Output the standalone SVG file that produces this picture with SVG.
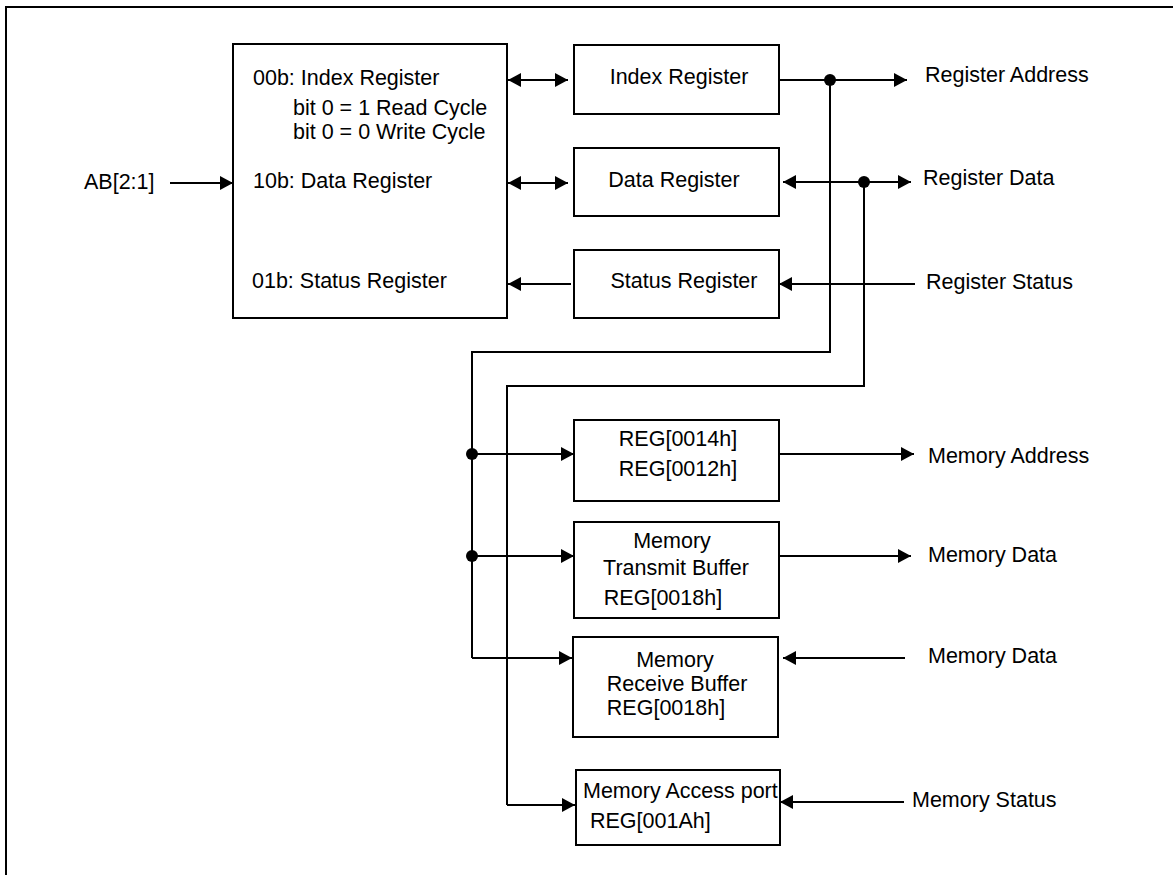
<svg xmlns="http://www.w3.org/2000/svg" width="1173" height="875" viewBox="0 0 1173 875">
<style>
  .box { fill: #fff; stroke: #000; stroke-width: 2; }
  .t { font-family: "Liberation Sans", Arial, sans-serif; font-size: 21.5px; fill: #000; }
  .m { text-anchor: middle; }
  .c { fill: none; stroke: #000; stroke-width: 2; }
  .a { marker-end: url(#ah); }
  .aa { marker-start: url(#ah); marker-end: url(#ah); }
  .dot { fill: #000; }
</style>
<defs>
  <marker id="ah" viewBox="0 0 13 14" refX="13" refY="7" markerWidth="13" markerHeight="14" markerUnits="userSpaceOnUse" orient="auto-start-reverse">
    <path d="M0,0 L13,7 L0,14 z" fill="#000"/>
  </marker>
</defs>
<rect width="1173" height="875" fill="#fff"/>
<path d="M6,875 V7 H1173" fill="none" stroke="#000" stroke-width="2"/>

<g id="connectors">
  <path class="c a" d="M170,183 H233"/>
  <path class="c aa" d="M508,80 H568"/>
  <path class="c aa" d="M508,183 H568"/>
  <path class="c a" d="M571,284 H508"/>
  <path class="c a" d="M779,80 H907"/>
  <path class="c" d="M830,80 V352 H472 V658"/>
  <path class="c a" d="M472,658 H572"/>
  <path class="c aa" d="M783,182 H911"/>
  <path class="c" d="M864,182 V386 H507 V805"/>
  <path class="c a" d="M507,805 H575"/>
  <path class="c a" d="M915,284 H779"/>
  <path class="c a" d="M472,454 H574"/>
  <path class="c a" d="M472,556 H574"/>
  <path class="c a" d="M779,454 H914"/>
  <path class="c a" d="M779,556 H911"/>
  <path class="c a" d="M905,658 H783"/>
  <path class="c a" d="M904,802 H780"/>
  <circle class="dot" cx="830" cy="80" r="6"/>
  <circle class="dot" cx="864" cy="182" r="6"/>
  <circle class="dot" cx="472" cy="454" r="6"/>
  <circle class="dot" cx="472" cy="556" r="6"/>
</g>

<g id="ab-label"><text class="t" x="84" y="189">AB[2:1]</text></g>

<g id="main">
  <rect class="box" x="233" y="44" width="274" height="274"/>
  <text class="t" x="253" y="85">00b: Index Register</text>
  <text class="t" x="293" y="115">bit 0 = 1 Read Cycle</text>
  <text class="t" x="293" y="139">bit 0 = 0 Write Cycle</text>
  <text class="t" x="253" y="188">10b: Data Register</text>
  <text class="t" x="252" y="288">01b: Status Register</text>
</g>

<g id="index-register">
  <rect class="box" x="574" y="45" width="205" height="69"/>
  <text class="t m" x="679" y="84">Index Register</text>
</g>
<g id="data-register">
  <rect class="box" x="574" y="148" width="205" height="68"/>
  <text class="t m" x="674" y="187">Data Register</text>
</g>
<g id="status-register">
  <rect class="box" x="574" y="250" width="205" height="68"/>
  <text class="t m" x="684" y="288">Status Register</text>
</g>

<g id="reg-address">
  <rect class="box" x="574" y="420" width="205" height="81"/>
  <text class="t m" x="678" y="446">REG[0014h]</text>
  <text class="t m" x="678" y="476">REG[0012h]</text>
</g>
<g id="transmit-buffer">
  <rect class="box" x="574" y="522" width="205" height="96"/>
  <text class="t m" x="672" y="548">Memory</text>
  <text class="t m" x="676" y="575">Transmit Buffer</text>
  <text class="t m" x="663" y="605">REG[0018h]</text>
</g>
<g id="receive-buffer">
  <rect class="box" x="573" y="637" width="205" height="100"/>
  <text class="t m" x="675" y="667">Memory</text>
  <text class="t m" x="677" y="691">Receive Buffer</text>
  <text class="t m" x="666" y="715">REG[0018h]</text>
</g>
<g id="access-port">
  <rect class="box" x="576" y="770" width="204" height="75"/>
  <text class="t" x="583" y="798">Memory Access port</text>
  <text class="t" x="590" y="828">REG[001Ah]</text>
</g>

<g id="labels">
  <text class="t" x="925" y="82">Register Address</text>
  <text class="t" x="923" y="185">Register Data</text>
  <text class="t" x="926" y="289">Register Status</text>
  <text class="t" x="928" y="463">Memory Address</text>
  <text class="t" x="928" y="562">Memory Data</text>
  <text class="t" x="928" y="663">Memory Data</text>
  <text class="t" x="912" y="807">Memory Status</text>
</g>
</svg>
